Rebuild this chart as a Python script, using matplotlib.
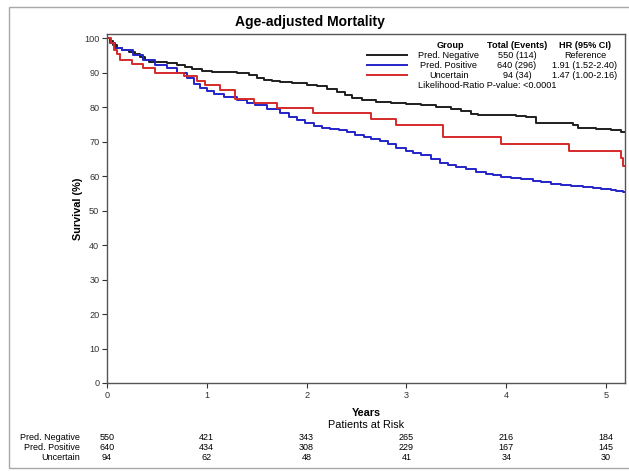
import matplotlib
matplotlib.use("Agg")
import matplotlib.pyplot as plt
import matplotlib.transforms as mtrans
from matplotlib.patches import Rectangle

plt.rcParams['font.family'] = ['Liberation Sans', 'DejaVu Sans']

# ---- data ----
groups = ["Pred. Negative", "Pred. Positive", "Uncertain"]
totals = ["550 (114)", "640 (296)", "94 (34)"]
hrs = ["Reference", "1.91 (1.52-2.40)", "1.47 (1.00-2.16)"]
colors = ["#1e1e1e", "#2424c8", "#d42a2a"]

neg_t = [0, 0.03, 0.06, 0.10, 0.15, 0.22, 0.28, 0.33, 0.38, 0.42, 0.60, 0.70, 0.78, 0.85,
         0.95, 1.05, 1.30, 1.42, 1.50, 1.57, 1.65, 1.73, 1.85, 2.00, 2.10, 2.20, 2.30, 2.38,
         2.45, 2.55, 2.70, 2.85, 3.00, 3.15, 3.30, 3.45, 3.55, 3.65, 3.72, 4.10, 4.20, 4.30,
         4.45, 4.67, 4.72, 4.90, 5.05, 5.15, 5.19]
neg_s = [100, 99.0, 98.0, 97.0, 96.5, 96.0, 95.3, 94.6, 93.6, 93.1, 92.7, 92.2, 91.5, 91.0,
         90.5, 90.2, 89.8, 89.2, 88.5, 87.8, 87.6, 87.3, 87.0, 86.5, 86.0, 85.2, 84.4, 83.5,
         82.5, 82.0, 81.5, 81.2, 80.9, 80.6, 80.0, 79.4, 78.8, 78.0, 77.7, 77.4, 77.0, 75.5,
         75.3, 74.8, 74.0, 73.6, 73.2, 72.8, 72.8]

pos_t = [0, 0.03, 0.08, 0.15, 0.26, 0.36, 0.48, 0.60, 0.70, 0.80, 0.87, 0.93, 1.00, 1.07,
         1.17, 1.30, 1.40, 1.48, 1.60, 1.73, 1.82, 1.90, 1.98, 2.07, 2.15, 2.23, 2.32, 2.40,
         2.48, 2.57, 2.65, 2.74, 2.82, 2.90, 3.00, 3.07, 3.15, 3.25, 3.34, 3.42, 3.50, 3.60,
         3.70, 3.80, 3.87, 3.95, 4.05, 4.15, 4.27, 4.35, 4.45, 4.55, 4.65, 4.77, 4.87, 4.95,
         5.05, 5.10, 5.17, 5.19]
pos_s = [100, 98.5, 97.2, 96.5, 95.1, 93.6, 92.3, 91.2, 90.0, 88.3, 86.8, 85.5, 84.6, 83.8,
         83.0, 82.0, 81.3, 80.6, 79.5, 78.2, 77.0, 76.2, 75.4, 74.6, 74.0, 73.6, 73.2, 72.7,
         72.0, 71.4, 70.8, 70.2, 69.2, 68.0, 67.3, 66.8, 66.0, 65.0, 63.8, 63.2, 62.7, 62.0,
         61.3, 60.7, 60.2, 59.8, 59.4, 59.1, 58.6, 58.2, 57.8, 57.5, 57.2, 56.9, 56.6, 56.3,
         56.0, 55.7, 55.3, 55.3]

unc_t = [0, 0.04, 0.07, 0.10, 0.13, 0.25, 0.36, 0.48, 0.77, 0.90, 0.98, 1.13, 1.28, 1.47,
         1.70, 2.06, 2.65, 2.90, 3.37, 3.95, 4.63, 5.15, 5.17, 5.19]
unc_s = [100, 98.5, 96.5, 95.5, 93.5, 92.4, 91.4, 90.0, 88.9, 87.6, 86.5, 85.0, 82.2, 81.1,
         79.6, 78.2, 76.4, 74.8, 71.3, 69.3, 67.2, 65.1, 62.8, 62.8]

risk_years = [0, 1, 2, 3, 4, 5]
risk_neg = [550, 421, 343, 265, 216, 184]
risk_pos = [640, 434, 308, 229, 167, 145]
risk_unc = [94, 62, 48, 41, 34, 30]

W, H = 629, 471
fig = plt.figure(figsize=(W / 100, H / 100), dpi=100)
fig.patch.set_facecolor("white")

def fx(px):
    return px / W

def fy(py):
    return 1 - py / H

ax = fig.add_axes([fx(107), fy(383), fx(625) - fx(107), fy(34) - fy(383)])

curves = [(neg_t, neg_s), (pos_t, pos_s), (unc_t, unc_s)]
for (t, s), c in zip(curves, colors):
    ax.plot(t, s, drawstyle="steps-post", color=c, lw=1.4)

ax.set_xlim(0, 5.19)
ax.set_ylim(0, 101.16)
ax.set_xticks(risk_years)
ax.set_yticks(range(0, 101, 10))
ax.tick_params(direction="out", length=3.5, width=0.8, labelsize=6.6, colors="#333333", pad=2)
for sp in ax.spines.values():
    sp.set_color("#555555")
    sp.set_linewidth(1.0)

ax.set_ylabel("Survival (%)", fontsize=7.8, fontweight="bold", labelpad=1)

fig.text(fx(310), fy(22), "Age-adjusted Mortality", ha="center", va="center",
         fontsize=10, fontweight="bold")

# legend table
hdr_y = 45
row_y = [55, 65, 75]
fs = 6.6
fig.text(fx(450), fy(hdr_y), "Group", ha="center", va="center", fontsize=fs, fontweight="bold")
fig.text(fx(517), fy(hdr_y), "Total (Events)", ha="center", va="center", fontsize=fs, fontweight="bold")
fig.text(fx(585), fy(hdr_y), "HR (95% CI)", ha="center", va="center", fontsize=fs, fontweight="bold")
for g, tot, hr, c, y in zip(groups, totals, hrs, colors, row_y):
    fig.add_artist(plt.Line2D([fx(367), fx(407)], [fy(y), fy(y)], color=c, lw=1.4))
    fig.text(fx(449), fy(y), g, ha="center", va="center", fontsize=fs)
    fig.text(fx(517), fy(y), tot, ha="center", va="center", fontsize=fs)
    fig.text(fx(585), fy(y), hr, ha="center", va="center", fontsize=fs)
fig.text(fx(418), fy(85), "Likelihood-Ratio P-value: <0.0001", ha="left", va="center", fontsize=fs)

# x-axis label and risk table
fig.text(fx(366), fy(413), "Years", ha="center", va="center", fontsize=7.8, fontweight="bold")
fig.text(fx(366), fy(425), "Patients at Risk", ha="center", va="center", fontsize=7.8)
trans = mtrans.blended_transform_factory(ax.transData, fig.transFigure)
for name, vals, y in zip(groups, [risk_neg, risk_pos, risk_unc], [437, 447, 457]):
    fig.text(fx(80), fy(y), name, ha="right", va="center", fontsize=6.5)
    for yr, v in zip(risk_years, vals):
        ax.text(yr, fy(y), str(v), transform=trans, ha="center", va="center",
                fontsize=6.5, clip_on=False)

# outer border
fig.add_artist(Rectangle((fx(9), fy(468)), 1.2, fy(7) - fy(468), transform=fig.transFigure,
                         fill=False, edgecolor="#a8a8a8", lw=1.0))

fig.savefig("out.png", dpi=100, facecolor="white")
